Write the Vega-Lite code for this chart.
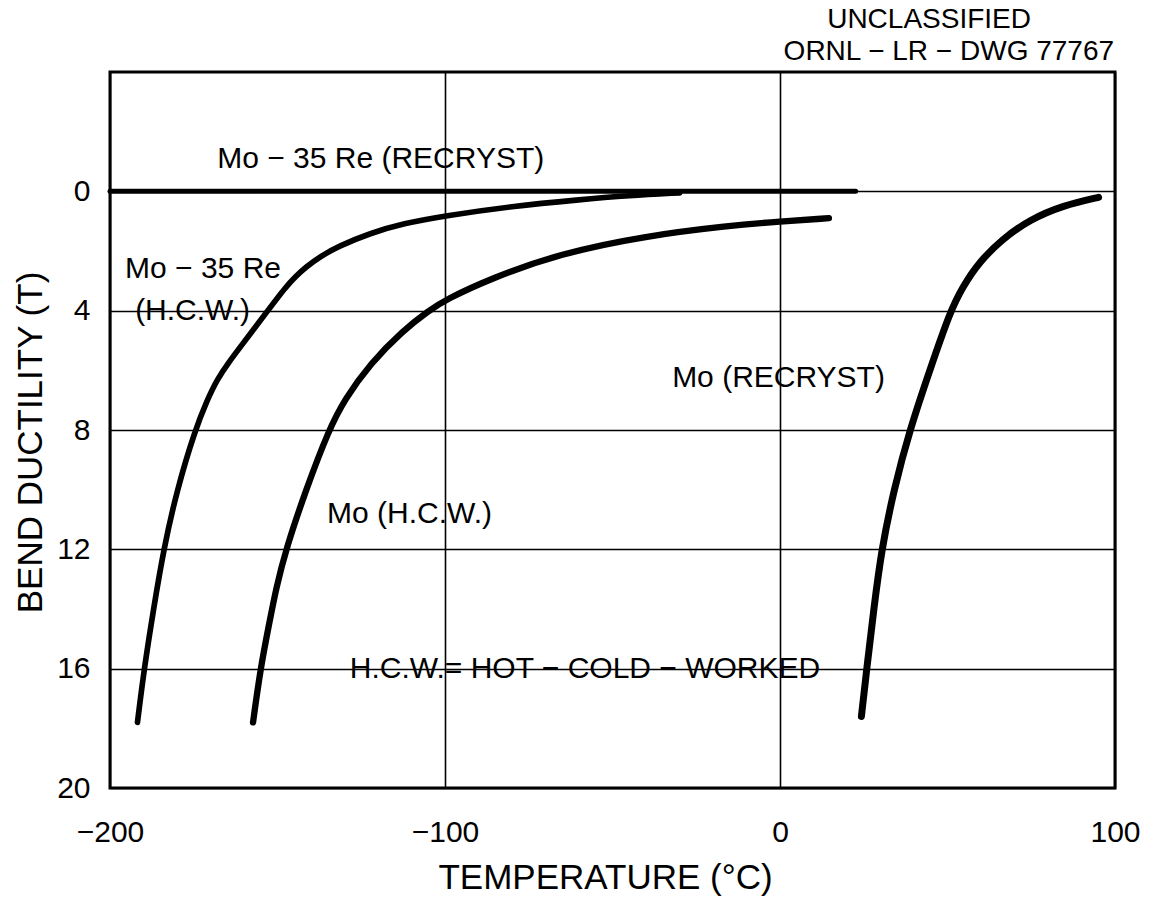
{
  "$schema": "https://vega.github.io/schema/vega-lite/v6.json",
  "width": 1005,
  "height": 716,
  "autosize": {"type": "none"},
  "padding": {"left": 110, "top": 72, "right": 44, "bottom": 111},
  "background": "white",
  "config": {
    "font": "Liberation Sans",
    "view": {"stroke": "black", "strokeWidth": 3},
    "axis": {
      "grid": true,
      "gridColor": "black",
      "gridWidth": 1.6,
      "gridOpacity": 1,
      "ticks": false,
      "domain": false,
      "labelColor": "black",
      "labelFont": "Liberation Sans",
      "labelFontSize": 30,
      "labelOverlap": false,
      "labelFlush": false,
      "labelBound": false,
      "titleColor": "black",
      "titleFont": "Liberation Sans",
      "titleFontSize": 35,
      "titleFontWeight": "normal"
    }
  },
  "datasets": {
    "curves": [
      {"series": "Mo-35 Re (RECRYST)", "temp": -200, "bend": 0},
      {"series": "Mo-35 Re (RECRYST)", "temp": 22.6, "bend": 0},
      {"series": "Mo-35 Re (H.C.W.)", "temp": -191.8, "bend": 17.8},
      {"series": "Mo-35 Re (H.C.W.)", "temp": -189.8, "bend": 16},
      {"series": "Mo-35 Re (H.C.W.)", "temp": -187, "bend": 14},
      {"series": "Mo-35 Re (H.C.W.)", "temp": -184, "bend": 12},
      {"series": "Mo-35 Re (H.C.W.)", "temp": -180, "bend": 10},
      {"series": "Mo-35 Re (H.C.W.)", "temp": -174.6, "bend": 8},
      {"series": "Mo-35 Re (H.C.W.)", "temp": -171, "bend": 7.0},
      {"series": "Mo-35 Re (H.C.W.)", "temp": -168, "bend": 6.3},
      {"series": "Mo-35 Re (H.C.W.)", "temp": -164.5, "bend": 5.72},
      {"series": "Mo-35 Re (H.C.W.)", "temp": -161, "bend": 5.2},
      {"series": "Mo-35 Re (H.C.W.)", "temp": -152.9, "bend": 4},
      {"series": "Mo-35 Re (H.C.W.)", "temp": -147.5, "bend": 3.2},
      {"series": "Mo-35 Re (H.C.W.)", "temp": -144.5, "bend": 2.85},
      {"series": "Mo-35 Re (H.C.W.)", "temp": -141.7, "bend": 2.55},
      {"series": "Mo-35 Re (H.C.W.)", "temp": -137, "bend": 2.17},
      {"series": "Mo-35 Re (H.C.W.)", "temp": -132, "bend": 1.85},
      {"series": "Mo-35 Re (H.C.W.)", "temp": -122.3, "bend": 1.4},
      {"series": "Mo-35 Re (H.C.W.)", "temp": -112.5, "bend": 1.08},
      {"series": "Mo-35 Re (H.C.W.)", "temp": -100, "bend": 0.82},
      {"series": "Mo-35 Re (H.C.W.)", "temp": -80, "bend": 0.5},
      {"series": "Mo-35 Re (H.C.W.)", "temp": -60, "bend": 0.28},
      {"series": "Mo-35 Re (H.C.W.)", "temp": -45, "bend": 0.14},
      {"series": "Mo-35 Re (H.C.W.)", "temp": -30, "bend": 0.05},
      {"series": "Mo (H.C.W.)", "temp": -157.3, "bend": 17.8},
      {"series": "Mo (H.C.W.)", "temp": -155.1, "bend": 16},
      {"series": "Mo (H.C.W.)", "temp": -152.5, "bend": 14.5},
      {"series": "Mo (H.C.W.)", "temp": -150.4, "bend": 13.3},
      {"series": "Mo (H.C.W.)", "temp": -147.5, "bend": 12},
      {"series": "Mo (H.C.W.)", "temp": -141.5, "bend": 10},
      {"series": "Mo (H.C.W.)", "temp": -134.7, "bend": 8},
      {"series": "Mo (H.C.W.)", "temp": -130, "bend": 6.98},
      {"series": "Mo (H.C.W.)", "temp": -122.3, "bend": 5.77},
      {"series": "Mo (H.C.W.)", "temp": -112.5, "bend": 4.66},
      {"series": "Mo (H.C.W.)", "temp": -104.8, "bend": 4},
      {"series": "Mo (H.C.W.)", "temp": -100, "bend": 3.64},
      {"series": "Mo (H.C.W.)", "temp": -85.9, "bend": 2.9},
      {"series": "Mo (H.C.W.)", "temp": -65.8, "bend": 2.09},
      {"series": "Mo (H.C.W.)", "temp": -40.6, "bend": 1.5},
      {"series": "Mo (H.C.W.)", "temp": -15.1, "bend": 1.15},
      {"series": "Mo (H.C.W.)", "temp": 0, "bend": 1.01},
      {"series": "Mo (H.C.W.)", "temp": 14.6, "bend": 0.9},
      {"series": "Mo (RECRYST)", "temp": 24.3, "bend": 17.6},
      {"series": "Mo (RECRYST)", "temp": 25.9, "bend": 16},
      {"series": "Mo (RECRYST)", "temp": 28, "bend": 14},
      {"series": "Mo (RECRYST)", "temp": 30.3, "bend": 12},
      {"series": "Mo (RECRYST)", "temp": 34, "bend": 10},
      {"series": "Mo (RECRYST)", "temp": 38.7, "bend": 8},
      {"series": "Mo (RECRYST)", "temp": 45, "bend": 5.9},
      {"series": "Mo (RECRYST)", "temp": 50.9, "bend": 4},
      {"series": "Mo (RECRYST)", "temp": 54.4, "bend": 3.23},
      {"series": "Mo (RECRYST)", "temp": 59.4, "bend": 2.37},
      {"series": "Mo (RECRYST)", "temp": 66.4, "bend": 1.6},
      {"series": "Mo (RECRYST)", "temp": 74.5, "bend": 0.95},
      {"series": "Mo (RECRYST)", "temp": 84.6, "bend": 0.47},
      {"series": "Mo (RECRYST)", "temp": 95.1, "bend": 0.2}
    ],
    "labels": [
      {"text": "Mo − 35 Re (RECRYST)", "temp": -168, "bend": -1.1},
      {"text": "Mo − 35 Re", "temp": -195.5, "bend": 2.6},
      {"text": "(H.C.W.)", "temp": -192.5, "bend": 4.0},
      {"text": "Mo (H.C.W.)", "temp": -135.2, "bend": 10.8},
      {"text": "Mo (RECRYST)", "temp": -32.2, "bend": 6.25},
      {"text": "H.C.W.= HOT − COLD − WORKED", "temp": -128.4, "bend": 16}
    ],
    "header": [
      {"text": "UNCLASSIFIED", "temp": 44.5, "bend": -5.74},
      {"text": "ORNL − LR − DWG 77767", "temp": 50.4, "bend": -4.67}
    ]
  },
  "layer": [
    {
      "data": {"name": "curves"},
      "mark": {"type": "line", "color": "black", "strokeCap": "round", "strokeJoin": "round", "interpolate": "basis"},
      "encoding": {
        "x": {
          "field": "temp",
          "type": "quantitative",
          "scale": {"domain": [-200, 100], "nice": false, "zero": false},
          "axis": {"values": [-200, -100, 0, 100], "labelPadding": 29, "title": "TEMPERATURE (°C)", "titleX": 495, "titleY": 100, "titleBaseline": "alphabetic"}
        },
        "y": {
          "field": "bend",
          "type": "quantitative",
          "scale": {"domain": [-4, 20], "reverse": true, "nice": false, "zero": false},
          "axis": {"values": [0, 4, 8, 12, 16, 20], "labelPadding": 20, "title": "BEND DUCTILITY (T)", "titleX": -80, "titleY": 370, "titleAngle": -90, "titleAlign": "center", "titleBaseline": "middle"}
        },
        "detail": {"field": "series"},
        "strokeWidth": {
          "field": "series",
          "type": "nominal",
          "scale": {"domain": ["Mo-35 Re (RECRYST)", "Mo-35 Re (H.C.W.)", "Mo (H.C.W.)", "Mo (RECRYST)"], "range": [5, 7, 7, 7]},
          "legend": null
        }
      }
    },
    {
      "data": {"name": "labels"},
      "mark": {"type": "text", "align": "left", "baseline": "middle", "fontSize": 30, "color": "black"},
      "encoding": {
        "x": {"field": "temp", "type": "quantitative"},
        "y": {"field": "bend", "type": "quantitative"},
        "text": {"field": "text"}
      }
    },
    {
      "data": {"name": "header"},
      "mark": {"type": "text", "align": "center", "baseline": "middle", "fontSize": 28, "color": "black"},
      "encoding": {
        "x": {"field": "temp", "type": "quantitative"},
        "y": {"field": "bend", "type": "quantitative"},
        "text": {"field": "text"}
      }
    }
  ]
}
